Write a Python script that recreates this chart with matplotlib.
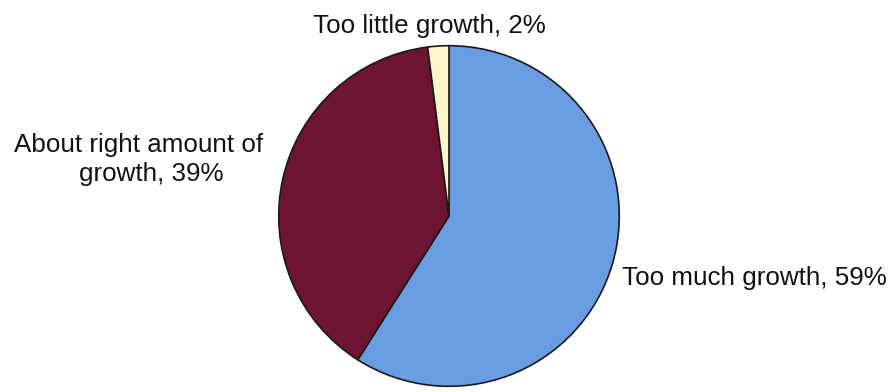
import matplotlib
matplotlib.use('Agg')
import matplotlib.pyplot as plt

categories = ['Too much growth', 'About right amount of growth', 'Too little growth']
shares = [59, 39, 2]
colors = ['#6a9ce2', '#6c1430', '#fff6cc']

W, H = 896, 392
fig = plt.figure(figsize=(W / 100, H / 100), dpi=100)
plt.rcParams['font.family'] = ['Liberation Sans', 'DejaVu Sans']

# pie centre and radius in pixels
cx, cy, r = 449, 216, 172
ax = fig.add_axes([(cx - r) / W, (H - cy - r) / H, 2 * r / W, 2 * r / H])
ax.pie(shares, colors=colors, startangle=90, counterclock=False,
       wedgeprops=dict(edgecolor='#1a1a1a', linewidth=1.2))
ax.set_xlim(-1.01, 1.01)
ax.set_ylim(-1.01, 1.01)
ax.axis('off')

fs = 18.7
def px_text(x, y, s, ha):
    fig.text(x / W, 1 - y / H, s, ha=ha, va='baseline', fontsize=fs, color='#111111')

px_text(622, 285, f'{categories[0]}, {shares[0]}%', 'left')
px_text(263, 152, 'About right amount of', 'right')
px_text(151, 181, f'growth, {shares[1]}%', 'center')
px_text(429, 33, f'{categories[2]}, {shares[2]}%', 'center')

fig.savefig('out.png', dpi=100)
